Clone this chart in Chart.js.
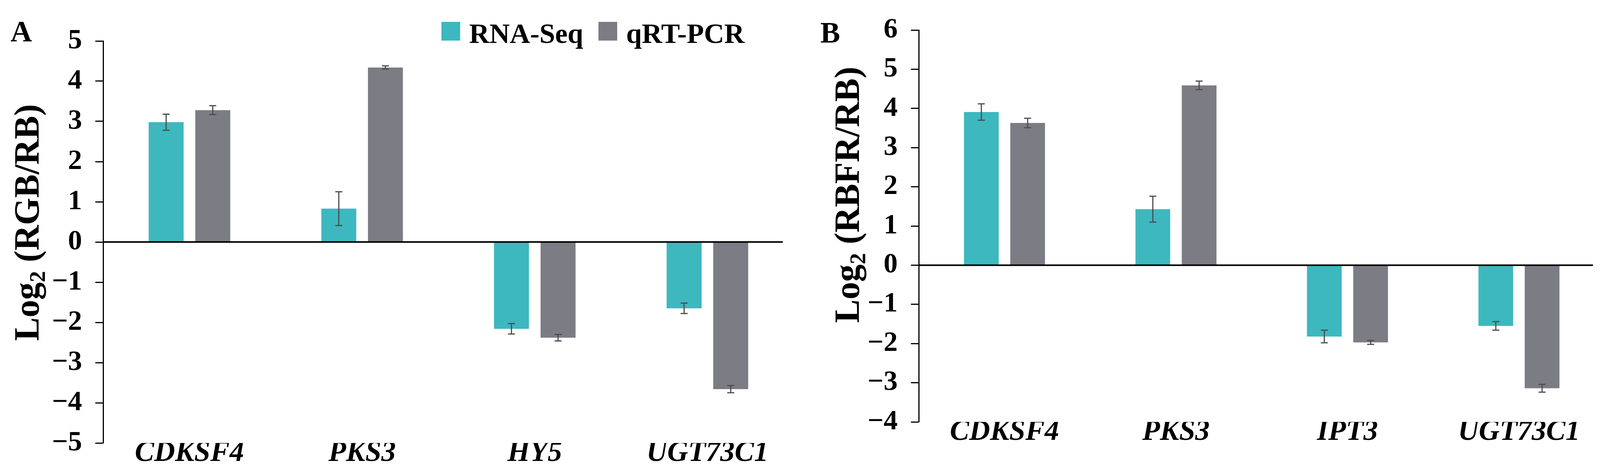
<!DOCTYPE html>
<html>
<head>
<meta charset="utf-8">
<script src="https://cdn.jsdelivr.net/npm/chart.js@4.4.1/dist/chart.umd.min.js"></script>
<style>
  html, body { margin: 0; padding: 0; background: #fff; }
  #wrap { position: relative; width: 4108px; height: 1217px; }
  .panel { position: absolute; top: 0; width: 2054px; height: 1217px; }
</style>
</head>
<body>
<div id="wrap">
  <div class="panel" style="left:0"><canvas id="chartA" width="2054" height="1217"></canvas></div>
  <div class="panel" style="left:2054px"><canvas id="chartB" width="2054" height="1217"></canvas></div>
</div>
<script>
// panel A: RGB vs RB
const genesA = ['CDKSF4', 'PKS3', 'HY5', 'UGT73C1'];
const rnaSeqA = [2.98, 0.83, -2.16, -1.65];
const rnaSeqErrA = [0.20, 0.42, 0.13, 0.13];
const qpcrA = [3.28, 4.34, -2.38, -3.66];
const qpcrErrA = [0.11, 0.04, 0.08, 0.09];
const yRangeA = [-5, 5];

// panel B: RBFR vs RB
const genesB = ['CDKSF4', 'PKS3', 'IPT3', 'UGT73C1'];
const rnaSeqB = [3.91, 1.43, -1.82, -1.55];
const rnaSeqErrB = [0.21, 0.33, 0.16, 0.11];
const qpcrB = [3.63, 4.59, -1.97, -3.14];
const qpcrErrB = [0.12, 0.11, 0.05, 0.10];
const yRangeB = [-4, 6];

const seriesNames = ['RNA-Seq', 'qRT-PCR'];
const CYAN = '#3db8be';
const GREY = '#7c7c85';
const SERIF = '"Liberation Serif", "Times New Roman", serif';

// zero line, stopping a little short of the last category like the original
const zeroLine = {
  id: 'zeroLine',
  afterDatasetsDraw(chart, args, opts) {
    const ctx = chart.ctx;
    const y0 = chart.scales.y.getPixelForValue(0);
    ctx.save();
    ctx.strokeStyle = '#000';
    ctx.lineWidth = 4;
    ctx.beginPath();
    ctx.moveTo(chart.chartArea.left, y0);
    ctx.lineTo(chart.chartArea.right - opts.trim, y0);
    ctx.stroke();
    ctx.restore();
  }
};

// error bars drawn from each dataset's errors array
const errorBars = {
  id: 'errorBars',
  afterDatasetsDraw(chart) {
    const ctx = chart.ctx;
    const y = chart.scales.y;
    chart.data.datasets.forEach((ds, i) => {
      const meta = chart.getDatasetMeta(i);
      meta.data.forEach((bar, j) => {
        const v = ds.data[j], e = ds.errors[j];
        const top = y.getPixelForValue(v + e);
        const bot = y.getPixelForValue(v - e);
        ctx.save();
        ctx.strokeStyle = '#4d4d4d';
        ctx.lineWidth = 3;
        ctx.beginPath();
        ctx.moveTo(bar.x, top); ctx.lineTo(bar.x, bot);
        ctx.moveTo(bar.x - 9, top); ctx.lineTo(bar.x + 9, top);
        ctx.moveTo(bar.x - 9, bot); ctx.lineTo(bar.x + 9, bot);
        ctx.stroke();
        ctx.restore();
      });
    });
  }
};

// panel letter, rotated axis title with subscript, legend
const decor = {
  id: 'decor',
  afterDraw(chart, args, opts) {
    const ctx = chart.ctx;
    ctx.save();
    ctx.fillStyle = '#000';
    ctx.font = 'bold 76px ' + SERIF;
    ctx.textBaseline = 'alphabetic';
    ctx.textAlign = 'left';
    ctx.fillText(opts.letter, opts.letterX, opts.letterY);

    // y title
    const big = 'bold 90px ' + SERIF, small = 'bold 58px ' + SERIF;
    const parts = [['Log', big, 0], ['2', small, 24], [' ' + opts.title, big, 0]];
    let total = 0;
    parts.forEach(p => { ctx.font = p[1]; total += ctx.measureText(p[0]).width; });
    ctx.translate(opts.titleX, opts.titleY);
    ctx.rotate(-Math.PI / 2);
    ctx.textBaseline = 'middle';
    let x = -total / 2;
    parts.forEach(p => {
      ctx.font = p[1];
      ctx.fillText(p[0], x, p[2]);
      x += ctx.measureText(p[0]).width;
    });
    ctx.setTransform(1, 0, 0, 1, 0, 0);

    if (opts.legend) {
      const L = opts.legend;
      let lx = L.x;
      ctx.font = 'bold 72px ' + SERIF;
      ctx.textBaseline = 'alphabetic';
      chart.data.datasets.forEach(ds => {
        ctx.fillStyle = ds.backgroundColor;
        ctx.fillRect(lx, L.y, 48, 48);
        ctx.fillStyle = '#000';
        ctx.fillText(ds.label, lx + 71, L.y + 54);
        lx += 71 + ctx.measureText(ds.label).width + 39;
      });
    }
    ctx.restore();
  }
};

function makeChart(id, genes, rna, rnaErr, qpcr, qpcrErr, range, lay) {
  return new Chart(document.getElementById(id), {
    type: 'bar',
    data: {
      labels: genes,
      datasets: [
        { label: seriesNames[0], data: rna, errors: rnaErr, backgroundColor: CYAN },
        { label: seriesNames[1], data: qpcr, errors: qpcrErr, backgroundColor: GREY }
      ]
    },
    options: {
      responsive: false,
      devicePixelRatio: 1,
      animation: false,
      categoryPercentage: 0.54,
      barPercentage: 0.75,
      layout: { padding: { left: 0, right: lay.right, top: lay.top, bottom: 0 } },
      plugins: {
        legend: { display: false },
        tooltip: { enabled: false },
        zeroLine: { trim: lay.trim },
        decor: lay.decor
      },
      scales: {
        x: {
          grid: { display: false },
          border: { display: false },
          ticks: {
            padding: -26,
            color: '#000',
            font: { family: SERIF, size: 74, style: 'italic', weight: 'bold' }
          },
          afterFit: s => { s.height = 1217 - lay.bottom; }
        },
        y: {
          min: range[0],
          max: range[1],
          ticks: {
            stepSize: 1,
            padding: lay.tickPad,
            color: '#000',
            font: { family: SERIF, size: 72, weight: 'bold' },
            callback: v => String(v).replace('-', '\u2212')
          },
          grid: {
            drawOnChartArea: false,
            tickColor: '#000',
            tickWidth: 3,
            tickLength: 20
          },
          border: { display: true, color: '#000', width: 3 },
          afterFit: s => { s.width = lay.left; }
        }
      }
    },
    plugins: [zeroLine, errorBars, decor]
  });
}

makeChart('chartA', genesA, rnaSeqA, rnaSeqErrA, qpcrA, qpcrErrA, yRangeA, {
  left: 264, right: 22, top: 105, bottom: 1135, tickPad: 34, trim: 28,
  decor: { letter: 'A', letterX: 27, letterY: 106, title: '(RGB/RB)', titleX: 76, titleY: 570,
           legend: { x: 1130, y: 56 } }
});

makeChart('chartB', genesB, rnaSeqB, rnaSeqErrB, qpcrB, qpcrErrB, yRangeB, {
  left: 298, right: 0, top: 56, bottom: 1081, tickPad: 34, trim: 30,
  decor: { letter: 'B', letterX: 46, letterY: 109, title: '(RBFR/RB)', titleX: 122, titleY: 499 }
});
</script>
</body>
</html>
